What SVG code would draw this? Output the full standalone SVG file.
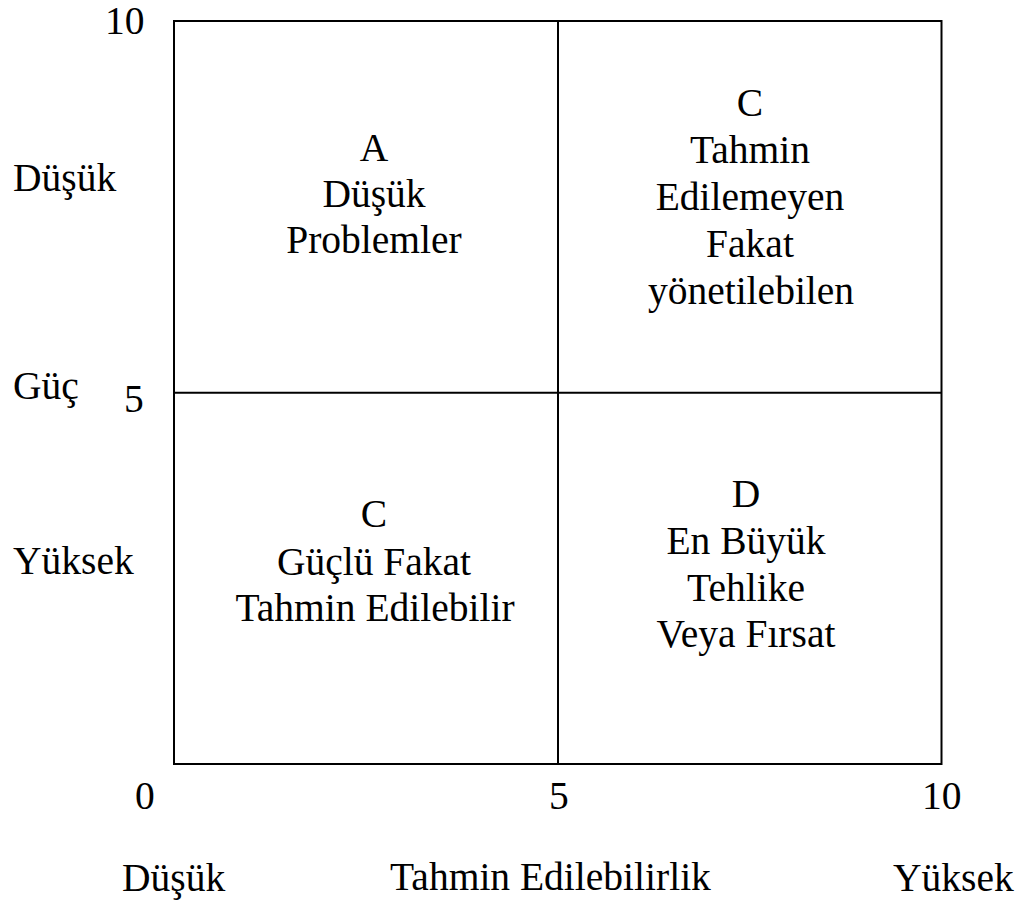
<svg xmlns="http://www.w3.org/2000/svg" width="1024" height="903" viewBox="0 0 1024 903">
  <style>
    text { font-family: "Liberation Serif", "Times New Roman", serif; font-size: 39.5px; fill: #000; }
    .c { text-anchor: middle; }
    .grid { fill: none; stroke: #000; stroke-width: 2; }
  </style>
  <rect width="1024" height="903" fill="#fff"/>

  <!-- grid frame and quadrant dividers -->
  <g id="connectors">
    <rect class="grid" x="174" y="21" width="767.5" height="743"/>
    <line class="grid" x1="558" y1="21" x2="558" y2="764"/>
    <line class="grid" x1="174" y1="392.7" x2="941.5" y2="392.7"/>
  </g>

  <!-- axis ticks -->
  <g id="axis-values">
    <text x="105" y="34">10</text>
    <text x="124" y="412">5</text>
    <text x="135" y="809">0</text>
    <text x="549" y="809">5</text>
    <text x="922" y="809">10</text>
  </g>

  <!-- vertical axis labels -->
  <g id="axis-y">
    <text x="13" y="191">Düşük</text>
    <text x="13" y="399">Güç</text>
    <text x="13" y="574">Yüksek</text>
  </g>

  <!-- horizontal axis labels -->
  <g id="axis-x">
    <text x="122" y="891">Düşük</text>
    <text x="390" y="890">Tahmin Edilebilirlik</text>
    <text x="893" y="891">Yüksek</text>
  </g>

  <g id="quadrant-a" class="c">
    <text class="c" x="374" y="161">A</text>
    <text class="c" x="374" y="207">Düşük</text>
    <text class="c" x="374" y="253">Problemler</text>
  </g>

  <g id="quadrant-c-top">
    <text class="c" x="750" y="116">C</text>
    <text class="c" x="750" y="163">Tahmin</text>
    <text class="c" x="750" y="210">Edilemeyen</text>
    <text class="c" x="750" y="257">Fakat</text>
    <text class="c" x="751" y="304">yönetilebilen</text>
  </g>

  <g id="quadrant-c-bottom">
    <text class="c" x="374" y="527">C</text>
    <text class="c" x="374" y="575">Güçlü Fakat</text>
    <text class="c" x="375" y="621">Tahmin Edilebilir</text>
  </g>

  <g id="quadrant-d">
    <text class="c" x="746" y="507">D</text>
    <text class="c" x="746" y="554">En Büyük</text>
    <text class="c" x="746" y="601">Tehlike</text>
    <text class="c" x="746" y="647">Veya Fırsat</text>
  </g>
</svg>
